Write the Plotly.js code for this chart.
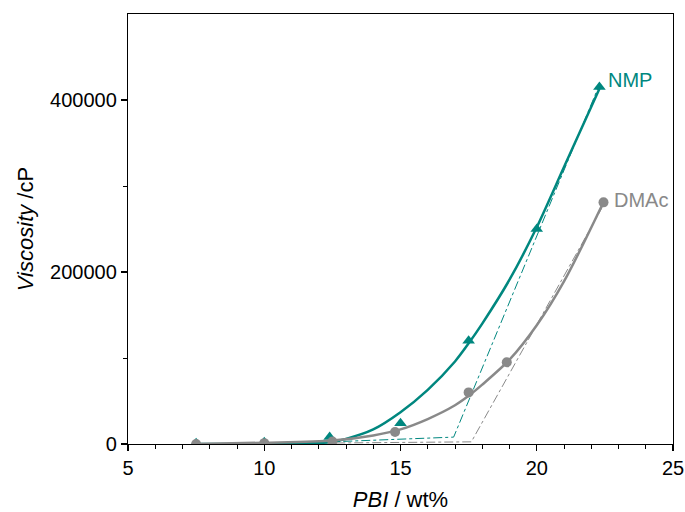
<!DOCTYPE html>
<html>
<head>
<meta charset="utf-8">
<script src="https://cdn.plot.ly/plotly-3.0.1.min.js"></script>
<style>html,body{margin:0;padding:0;background:#fff;}#chart{width:685px;height:512px;}</style>
</head>
<body>
<div id="chart"></div>
<script>
// Measured points
const nmpX = [7.5, 10.0, 12.4, 15.0, 17.5, 20.0, 22.3];
const nmpY = [1000, 2000, 8000, 24000, 120000, 250000, 415000];
const dmacX = [7.5, 10.0, 12.5, 14.8, 17.5, 18.9, 22.45];
const dmacY = [0, 1000, 3000, 14000, 60000, 95000, 281000];

// Fit curves
const nmpFitX = [7.5, 10.0, 12.4, 13.0, 14.0, 15.0, 16.0, 17.0, 17.5, 18.0, 19.0, 20.0, 21.0, 22.3];
const nmpFitY = [0, 0, 2000, 6000, 17000, 37000, 63000, 96000, 117000, 140000, 191000, 252000, 322000, 413000];
const dmacFitX = [7.5, 10.0, 12.5, 14.0, 15.0, 16.0, 17.0, 17.5, 18.0, 19.0, 20.0, 21.0, 22.4];
const dmacFitY = [0, 1500, 4000, 10000, 17000, 29000, 45000, 56000, 69000, 98000, 138000, 189000, 278000];

// Tangent (dash-dot) lines
const nmpTanX = [9.6, 16.95, 22.3];
const nmpTanY = [-1000, 8000, 418000];
const dmacTanX = [10.0, 17.6, 22.4];
const dmacTanY = [500, 2500, 275000];

const labels = ["NMP", "DMAc"];
const teal = "#00877f";
const gray = "#898989";

const traces = [
  {x: nmpTanX, y: nmpTanY, mode: "lines", line: {color: teal, width: 1, dash: "dashdot"}, hoverinfo: "skip"},
  {x: dmacTanX, y: dmacTanY, mode: "lines", line: {color: gray, width: 1, dash: "dashdot"}, hoverinfo: "skip"},
  {x: nmpFitX, y: nmpFitY, mode: "lines", line: {color: teal, width: 2.5, shape: "spline", smoothing: 0.8}},
  {x: nmpX, y: nmpY, mode: "markers", marker: {symbol: "triangle-up", size: 11, color: teal}},
  {x: dmacFitX, y: dmacFitY, mode: "lines", line: {color: gray, width: 2.5, shape: "spline", smoothing: 0.8}},
  {x: dmacX, y: dmacY, mode: "markers", marker: {symbol: "circle", size: 10, color: gray}}
];

const layout = {
  width: 685, height: 512,
  margin: {l: 128, r: 12, t: 14, b: 68},
  paper_bgcolor: "#fff", plot_bgcolor: "#fff",
  showlegend: false,
  font: {family: "Liberation Sans, Arial, sans-serif", size: 20, color: "#000"},
  xaxis: {
    range: [5, 25], tickvals: [5, 10, 15, 20, 25], ticktext: ["5","10","15","20","25"],
    ticks: "outside", ticklen: 6, tickwidth: 1.2, tickcolor: "#000",
    minor: {dtick: 1, ticks: "outside", ticklen: 4, tickwidth: 1, tickcolor: "#000", showgrid: false},
    showline: true, linecolor: "#000", linewidth: 1.2, mirror: true,
    showgrid: false, zeroline: false,
    title: {text: "<i>PBI</i> / wt%", font: {size: 22}}
  },
  yaxis: {
    range: [0, 500000], tickvals: [0, 200000, 400000], ticktext: ["0","200000","400000"],
    ticks: "outside", ticklen: 6, tickwidth: 1.2, tickcolor: "#000",
    minor: {tickvals: [100000, 300000], ticks: "outside", ticklen: 4, tickwidth: 1, tickcolor: "#000", showgrid: false},
    showline: true, linecolor: "#000", linewidth: 1.2, mirror: true,
    showgrid: false, zeroline: false, automargin: true,
    title: {text: "<i>Viscosity</i> /cP", font: {size: 22}, standoff: 10}
  },
  annotations: [
    {x: 22.55, y: 423000, xanchor: "left", yanchor: "middle", text: labels[0], showarrow: false, font: {color: teal, size: 20}},
    {x: 22.75, y: 284000, xanchor: "left", yanchor: "middle", text: labels[1], showarrow: false, font: {color: gray, size: 20}}
  ]
};

Plotly.newPlot("chart", traces, layout, {staticPlot: true});
</script>
</body>
</html>
